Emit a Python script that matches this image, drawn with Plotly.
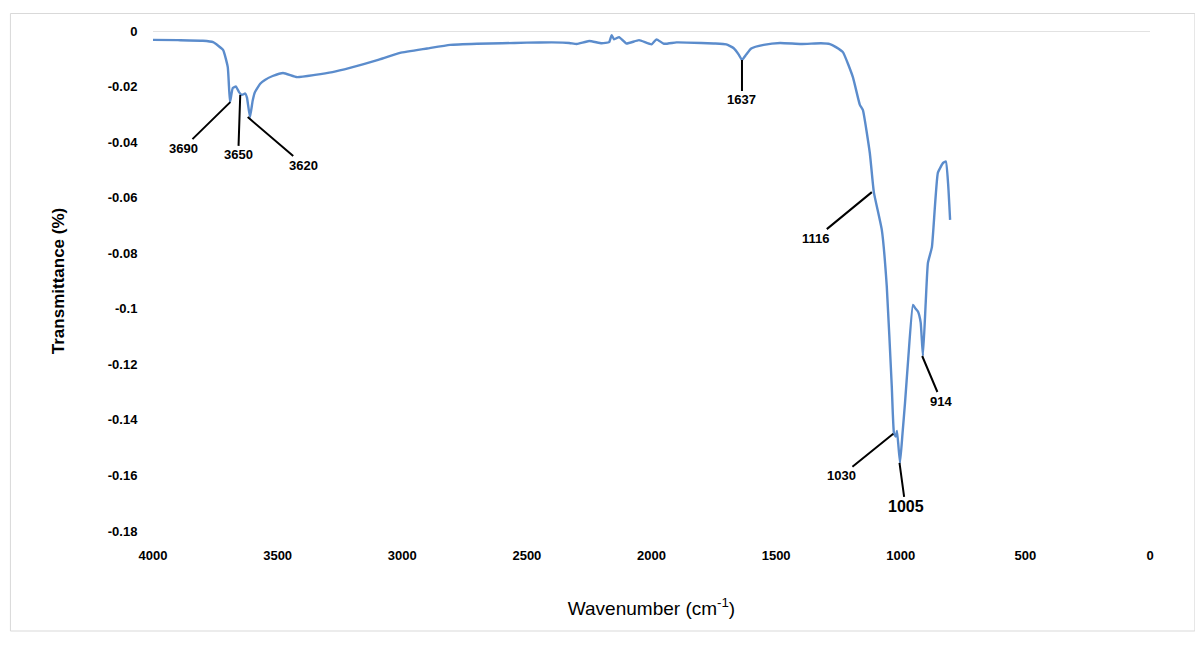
import plotly.graph_objects as go

# FTIR spectrum
wavenumber = [4000, 3900, 3800, 3759, 3719, 3700, 3691, 3680, 3667, 3655, 3643, 3630, 3623, 3611,
              3600, 3591, 3570, 3551, 3520, 3478, 3422, 3350, 3280, 3210, 3100, 3009, 2900, 2808,
              2700, 2600, 2500, 2400, 2330, 2300, 2250, 2200, 2170, 2160, 2150, 2130, 2100, 2050,
              2000, 1980, 1950, 1900, 1800, 1750, 1700, 1670, 1650, 1637, 1620, 1600, 1550, 1484,
              1400, 1320, 1284, 1260, 1232, 1192, 1164, 1152, 1124, 1108, 1076, 1056, 1036, 1027,
              1020, 1015, 1003, 993, 983, 970, 951, 940, 931, 920, 911, 900, 891, 875, 851, 830,
              819, 810, 802]
transmittance = [-0.0032, -0.0033, -0.0035, -0.004, -0.0068, -0.013, -0.0256, -0.0205, -0.020,
                 -0.022, -0.023, -0.0225, -0.024, -0.031, -0.025, -0.022, -0.019, -0.0176,
                 -0.0162, -0.0151, -0.0166, -0.0158, -0.0148, -0.0133, -0.0105, -0.0079, -0.0063,
                 -0.005, -0.0046, -0.0044, -0.0042, -0.0041, -0.0043, -0.0047, -0.0036, -0.0044,
                 -0.004, -0.0015, -0.003, -0.0022, -0.0045, -0.0033, -0.0048, -0.0030, -0.0046,
                 -0.0041, -0.0043, -0.0045, -0.0048, -0.0062, -0.0085, -0.0104, -0.0085, -0.0063,
                 -0.0050, -0.0043, -0.0047, -0.0044, -0.0047, -0.0058, -0.0076, -0.0166, -0.0266,
                 -0.0284, -0.044, -0.058, -0.0716, -0.092, -0.128, -0.145, -0.146, -0.144, -0.1555,
                 -0.145, -0.134, -0.118, -0.0986, -0.100, -0.101, -0.105, -0.117, -0.098, -0.0835,
                 -0.0778, -0.051, -0.0475, -0.047, -0.055, -0.068]

# peak labels and where their text sits relative to the peak (px)
peak_wn = [3690, 3650, 3620, 1637, 1116, 1030, 1005, 914]
peak_y = [-0.0256, -0.023, -0.031, -0.0104, -0.058, -0.145, -0.1555, -0.117]
peak_dx = [-47, -2, 56, 0, -56, -52, 6, 19]
peak_dy = [46, 60, 48, 40, 46, 42, 44, 45]

fig = go.Figure()
fig.add_trace(go.Scatter(x=wavenumber, y=transmittance, mode="lines",
                         line=dict(color="#5b8ccc", width=2.4, shape="spline", smoothing=0.4),
                         showlegend=False))

for wn, yv, dx, dy in zip(peak_wn, peak_y, peak_dx, peak_dy):
    big = wn == 1005
    fig.add_annotation(x=wn, y=yv, text="<b>%d</b>" % wn, ax=dx, ay=dy, showarrow=True,
                       arrowhead=0, arrowwidth=2, arrowcolor="black", standoff=0,
                       xanchor="center", yanchor="middle",
                       font=dict(size=16 if big else 13, color="black",
                                 family="Liberation Sans"))

fig.add_shape(type="rect", xref="paper", yref="paper", x0=-0.143, x1=1.045, y0=-0.20, y1=1.035,
              line=dict(color="#d9d9d9", width=1))

fig.update_layout(
    width=1203, height=647,
    margin=dict(l=145, r=61, t=23, b=124),
    plot_bgcolor="white", paper_bgcolor="white",
    font=dict(family="Liberation Sans", color="black"),
    xaxis=dict(range=[4000, 0], tickvals=[4000, 3500, 3000, 2500, 2000, 1500, 1000, 500, 0],
               showgrid=False, zeroline=False, showline=False,
               ticks="outside", ticklen=12, tickcolor="white",
               tickfont=dict(size=13, family="Liberation Sans", weight="bold"),
               title=dict(text="Wavenumber (cm<sup>-1</sup>)", font=dict(size=19), standoff=40)),
    yaxis=dict(range=[-0.18, 0], showgrid=False, zeroline=False, showline=False,
               ticks="outside", ticklen=12, tickcolor="white",
               tickvals=[0, -0.02, -0.04, -0.06, -0.08, -0.1, -0.12, -0.14, -0.16, -0.18],
               ticktext=["0", "-0.02", "-0.04", "-0.06", "-0.08", "-0.1", "-0.12", "-0.14",
                         "-0.16", "-0.18"],
               tickfont=dict(size=13, family="Liberation Sans", weight="bold"),
               title=dict(text="<b>Transmittance (%)</b>", font=dict(size=17), standoff=38)),
)
fig.add_hline(y=0, line=dict(color="#d9d9d9", width=1.5), layer="below")

fig.write_html("out.html")
